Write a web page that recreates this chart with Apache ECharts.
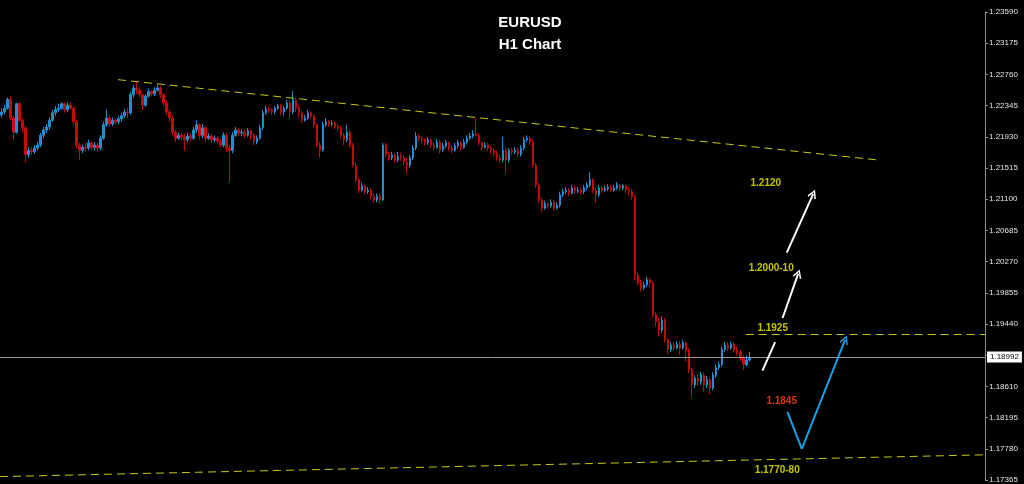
<!DOCTYPE html>
<html><head><meta charset="utf-8">
<script src="https://cdn.jsdelivr.net/npm/echarts@6/dist/echarts.min.js"></script>
<style>html,body{margin:0;padding:0;background:#000}#c{width:1024px;height:484px}</style>
</head><body><div id="c"></div><script>
// H1 candles: [open, close, low, high]
const candles = [
[1.2222,1.2226,1.2218,1.2231],[1.2226,1.2231,1.2223,1.2235],[1.2231,1.2243,1.2229,1.2245],[1.2243,1.2218,1.2215,1.2246],
[1.2218,1.2199,1.2189,1.2221],[1.2199,1.2237,1.2197,1.2238],[1.2237,1.2215,1.2213,1.2239],[1.2215,1.2205,1.2199,1.2218],
[1.2205,1.2169,1.2159,1.2207],[1.2169,1.2175,1.2165,1.2179],[1.2175,1.2173,1.2169,1.2179],[1.2173,1.2178,1.2170,1.2182],
[1.2178,1.2182,1.2175,1.2186],[1.2182,1.2195,1.2179,1.2198],[1.2195,1.2202,1.2191,1.2206],[1.2202,1.2206,1.2198,1.2210],
[1.2206,1.2215,1.2202,1.2219],[1.2215,1.2225,1.2213,1.2229],[1.2225,1.2229,1.2221,1.2234],[1.2229,1.2231,1.2226,1.2237],
[1.2231,1.2237,1.2229,1.2239],[1.2237,1.2229,1.2225,1.2238],[1.2229,1.2235,1.2226,1.2239],[1.2235,1.2231,1.2229,1.2239],
[1.2231,1.2213,1.2209,1.2234],[1.2213,1.2182,1.2178,1.2215],[1.2182,1.2175,1.2162,1.2185],[1.2175,1.2179,1.2171,1.2183],
[1.2179,1.2178,1.2173,1.2185],[1.2178,1.2185,1.2175,1.2189],[1.2185,1.2179,1.2175,1.2187],[1.2179,1.2182,1.2175,1.2186],
[1.2182,1.2178,1.2173,1.2185],[1.2178,1.2191,1.2175,1.2195],[1.2191,1.2209,1.2189,1.2213],[1.2209,1.2218,1.2206,1.2229],
[1.2218,1.2210,1.2206,1.2221],[1.2210,1.2215,1.2207,1.2219],[1.2215,1.2213,1.2209,1.2218],[1.2213,1.2217,1.2210,1.2221],
[1.2217,1.2221,1.2213,1.2225],[1.2221,1.2226,1.2218,1.2230],[1.2226,1.2225,1.2218,1.2231],[1.2225,1.2249,1.2222,1.2253],
[1.2249,1.2258,1.2245,1.2262],[1.2258,1.2255,1.2250,1.2266],[1.2255,1.2249,1.2245,1.2259],[1.2249,1.2235,1.2229,1.2251],
[1.2235,1.2247,1.2233,1.2250],[1.2247,1.2253,1.2245,1.2257],[1.2253,1.2250,1.2247,1.2255],[1.2250,1.2255,1.2247,1.2259],
[1.2255,1.2258,1.2253,1.2262],[1.2258,1.2249,1.2245,1.2261],[1.2249,1.2238,1.2234,1.2251],[1.2238,1.2226,1.2222,1.2242],
[1.2226,1.2218,1.2213,1.2229],[1.2218,1.2199,1.2195,1.2221],[1.2199,1.2191,1.2186,1.2202],[1.2191,1.2195,1.2189,1.2199],
[1.2195,1.2193,1.2189,1.2198],[1.2193,1.2189,1.2175,1.2197],[1.2189,1.2194,1.2186,1.2198],[1.2194,1.2191,1.2187,1.2198],
[1.2191,1.2202,1.2189,1.2206],[1.2202,1.2209,1.2198,1.2215],[1.2209,1.2195,1.2189,1.2211],[1.2195,1.2205,1.2191,1.2210],
[1.2205,1.2191,1.2186,1.2207],[1.2191,1.2194,1.2189,1.2198],[1.2194,1.2189,1.2185,1.2197],[1.2189,1.2191,1.2186,1.2195],
[1.2191,1.2187,1.2183,1.2194],[1.2187,1.2182,1.2179,1.2190],[1.2182,1.2195,1.2179,1.2199],[1.2195,1.2178,1.2173,1.2198],
[1.2178,1.2175,1.2133,1.2182],[1.2175,1.2195,1.2171,1.2199],[1.2195,1.2202,1.2193,1.2206],[1.2202,1.2198,1.2194,1.2205],
[1.2198,1.2199,1.2194,1.2203],[1.2199,1.2195,1.2191,1.2202],[1.2195,1.2201,1.2193,1.2205],[1.2201,1.2195,1.2189,1.2203],
[1.2195,1.2186,1.2182,1.2198],[1.2186,1.2191,1.2183,1.2195],[1.2191,1.2205,1.2189,1.2209],[1.2205,1.2225,1.2202,1.2229],
[1.2225,1.2230,1.2222,1.2234],[1.2230,1.2229,1.2225,1.2233],[1.2229,1.2226,1.2222,1.2231],[1.2226,1.2231,1.2223,1.2234],
[1.2231,1.2234,1.2229,1.2237],[1.2234,1.2226,1.2222,1.2237],[1.2226,1.2231,1.2221,1.2234],[1.2231,1.2238,1.2229,1.2242],
[1.2238,1.2226,1.2218,1.2241],[1.2226,1.2242,1.2223,1.2254],[1.2242,1.2231,1.2226,1.2245],[1.2231,1.2225,1.2219,1.2235],
[1.2225,1.2215,1.2211,1.2227],[1.2215,1.2218,1.2213,1.2222],[1.2218,1.2225,1.2215,1.2229],[1.2225,1.2221,1.2217,1.2227],
[1.2221,1.2209,1.2205,1.2223],[1.2209,1.2182,1.2178,1.2211],[1.2182,1.2175,1.2165,1.2186],[1.2175,1.2209,1.2173,1.2213],
[1.2209,1.2213,1.2206,1.2218],[1.2213,1.2210,1.2206,1.2215],[1.2210,1.2211,1.2207,1.2215],[1.2211,1.2207,1.2203,1.2214],
[1.2207,1.2205,1.2201,1.2210],[1.2205,1.2195,1.2191,1.2207],[1.2195,1.2189,1.2182,1.2198],[1.2189,1.2199,1.2186,1.2209],
[1.2199,1.2182,1.2178,1.2202],[1.2182,1.2155,1.2152,1.2185],[1.2155,1.2136,1.2132,1.2159],[1.2136,1.2122,1.2118,1.2138],
[1.2122,1.2128,1.2120,1.2132],[1.2128,1.2120,1.2116,1.2130],[1.2120,1.2122,1.2117,1.2126],[1.2122,1.2114,1.2110,1.2125],
[1.2114,1.2109,1.2105,1.2118],[1.2109,1.2114,1.2106,1.2118],[1.2114,1.2109,1.2104,1.2117],[1.2109,1.2182,1.2108,1.2185],
[1.2182,1.2169,1.2165,1.2185],[1.2169,1.2165,1.2161,1.2173],[1.2165,1.2169,1.2162,1.2173],[1.2169,1.2162,1.2158,1.2171],
[1.2162,1.2167,1.2159,1.2173],[1.2167,1.2165,1.2161,1.2171],[1.2165,1.2159,1.2155,1.2169],[1.2159,1.2155,1.2145,1.2165],
[1.2155,1.2165,1.2152,1.2169],[1.2165,1.2178,1.2162,1.2182],[1.2178,1.2194,1.2175,1.2199],[1.2194,1.2191,1.2187,1.2197],
[1.2191,1.2189,1.2185,1.2194],[1.2189,1.2185,1.2181,1.2191],[1.2185,1.2189,1.2182,1.2193],[1.2189,1.2182,1.2178,1.2191],
[1.2182,1.2179,1.2175,1.2186],[1.2179,1.2186,1.2177,1.2190],[1.2186,1.2175,1.2171,1.2189],[1.2175,1.2181,1.2173,1.2185],
[1.2181,1.2185,1.2178,1.2189],[1.2185,1.2178,1.2174,1.2187],[1.2178,1.2175,1.2171,1.2182],[1.2175,1.2181,1.2173,1.2185],
[1.2181,1.2185,1.2178,1.2189],[1.2185,1.2179,1.2175,1.2187],[1.2179,1.2186,1.2177,1.2190],[1.2186,1.2191,1.2183,1.2195],
[1.2191,1.2194,1.2189,1.2198],[1.2194,1.2197,1.2191,1.2202],[1.2197,1.2195,1.2193,1.2218],[1.2195,1.2185,1.2181,1.2198],
[1.2185,1.2179,1.2175,1.2187],[1.2179,1.2182,1.2177,1.2186],[1.2182,1.2178,1.2174,1.2185],[1.2178,1.2175,1.2171,1.2181],
[1.2175,1.2171,1.2167,1.2178],[1.2171,1.2165,1.2161,1.2174],[1.2165,1.2162,1.2158,1.2169],[1.2162,1.2175,1.2159,1.2193],
[1.2175,1.2162,1.2145,1.2178],[1.2162,1.2175,1.2159,1.2178],[1.2175,1.2173,1.2169,1.2178],[1.2173,1.2175,1.2170,1.2179],
[1.2175,1.2170,1.2166,1.2178],[1.2170,1.2178,1.2167,1.2182],[1.2178,1.2189,1.2175,1.2193],[1.2189,1.2191,1.2186,1.2195],
[1.2191,1.2186,1.2182,1.2194],[1.2186,1.2155,1.2152,1.2189],[1.2155,1.2129,1.2125,1.2158],[1.2129,1.2109,1.2105,1.2132],
[1.2109,1.2098,1.2093,1.2112],[1.2098,1.2104,1.2096,1.2108],[1.2104,1.2101,1.2097,1.2106],[1.2101,1.2106,1.2098,1.2110],
[1.2106,1.2098,1.2094,1.2109],[1.2098,1.2102,1.2096,1.2106],[1.2102,1.2116,1.2099,1.2120],[1.2116,1.2120,1.2113,1.2124],
[1.2120,1.2122,1.2117,1.2126],[1.2122,1.2118,1.2114,1.2125],[1.2118,1.2125,1.2116,1.2129],[1.2125,1.2121,1.2117,1.2128],
[1.2121,1.2122,1.2118,1.2126],[1.2122,1.2120,1.2116,1.2125],[1.2120,1.2125,1.2117,1.2129],[1.2125,1.2129,1.2122,1.2133],
[1.2129,1.2136,1.2126,1.2146],[1.2136,1.2122,1.2118,1.2138],[1.2122,1.2116,1.2105,1.2126],[1.2116,1.2125,1.2113,1.2129],
[1.2125,1.2122,1.2118,1.2128],[1.2122,1.2124,1.2120,1.2128],[1.2124,1.2126,1.2121,1.2130],[1.2126,1.2122,1.2120,1.2129],
[1.2122,1.2125,1.2120,1.2129],[1.2125,1.2129,1.2122,1.2133],[1.2129,1.2125,1.2121,1.2130],[1.2125,1.2128,1.2122,1.2130],
[1.2128,1.2122,1.2118,1.2130],[1.2122,1.2120,1.2114,1.2126],[1.2120,1.2113,1.2109,1.2124],[1.2113,1.2009,1.2003,1.2116],
[1.2009,1.1999,1.1995,1.2013],[1.1999,1.1992,1.1987,1.2003],[1.1992,1.1996,1.1989,1.2000],[1.1996,1.2003,1.1993,1.2007],
[1.2003,1.1999,1.1993,1.2005],[1.1999,1.1956,1.1952,1.2001],[1.1956,1.1947,1.1941,1.1960],[1.1947,1.1936,1.1927,1.1952],
[1.1936,1.1949,1.1932,1.1954],[1.1949,1.1923,1.1919,1.1952],[1.1923,1.1910,1.1904,1.1925],[1.1910,1.1916,1.1907,1.1920],
[1.1916,1.1912,1.1908,1.1920],[1.1912,1.1917,1.1910,1.1921],[1.1917,1.1912,1.1903,1.1921],[1.1912,1.1919,1.1910,1.1923],
[1.1919,1.1910,1.1894,1.1921],[1.1910,1.1883,1.1879,1.1912],[1.1883,1.1863,1.1847,1.1886],[1.1863,1.1872,1.1859,1.1876],
[1.1872,1.1867,1.1862,1.1878],[1.1867,1.1876,1.1863,1.1880],[1.1876,1.1863,1.1854,1.1879],[1.1863,1.1870,1.1859,1.1875],
[1.1870,1.1859,1.1850,1.1872],[1.1859,1.1876,1.1856,1.1880],[1.1876,1.1886,1.1872,1.1890],[1.1886,1.1890,1.1883,1.1894],
[1.1890,1.1910,1.1887,1.1914],[1.1910,1.1916,1.1907,1.1920],[1.1916,1.1912,1.1908,1.1920],[1.1912,1.1917,1.1910,1.1921],
[1.1917,1.1910,1.1906,1.1920],[1.1910,1.1907,1.1902,1.1914],[1.1907,1.1899,1.1895,1.1910],[1.1899,1.1890,1.1883,1.1903],
[1.1890,1.1896,1.1887,1.1902],[1.1896,1.18992,1.1894,1.1907]
];
const slotCount = 328;           // hourly slots shown, incl. empty right margin
const yMin = 1.17365, yMax = 1.23590, yStep = 0.00415;
const lastPrice = 1.18992;
// annotation lines: [slot index, price]
const upperTrend = [[38.8, 1.2269], [292.2, 1.2162]];
const lowerTrend = [[-0.5, 1.1741], [327.5, 1.1770]];
const level1925 = [[247.8, 1.1930], [327.5, 1.1930]];
const whiteArrows = [
  [[253.4, 1.1882], [257.6, 1.1920], false],
  [[260.1, 1.1952], [265.3, 1.2011], true],
  [[261.5, 1.2039], [270.3, 1.2117], true]
];
const blueArrow = [[261.7, 1.1827], [266.5, 1.1778], [280.9, 1.1923]];
const notes = [
  ['1.2120', 254.5, 1.2131, '#f2f200'],
  ['1.2000-10', 256.3, 1.2018, '#f2f200'],
  ['1.1925', 256.8, 1.1939, '#f2f200'],
  ['1.1845', 259.8, 1.1841, '#ff4a14'],
  ['1.1770-80', 258.3, 1.1750, '#f2f200']
];

const categories = Array.from({length: slotCount}, (_, i) => String(i));
const chev = 'path://M5,0 L10,9 L8.6,10 L5,3 L1.4,10 L0,9 Z';
const yellow = '#c8c814';
const F = 'Liberation Sans, Arial, sans-serif';

function segLine(pts, color, width, arrow) {
  return [{coord: pts[0], symbol: 'none'},
          {coord: pts[1], symbol: arrow ? chev : 'none', symbolSize: 9,
           lineStyle: {color: color, width: width, type: 'solid'}}];
}

const chart = echarts.init(document.getElementById('c'));
chart.setOption({
  animation: false,
  backgroundColor: '#000',
  title: {
    text: 'EURUSD\nH1 Chart', left: 525, top: 7, textAlign: 'center',
    textStyle: {color: '#fff', fontSize: 15, fontWeight: 'bold', fontFamily: F, lineHeight: 22}
  },
  grid: {left: 0, right: 39, top: 12, bottom: 4},
  xAxis: [
    {type: 'category', data: categories, boundaryGap: true, show: false},
    {type: 'value', min: -0.5, max: slotCount - 0.5, show: false}
  ],
  yAxis: {
    type: 'value', position: 'right', min: yMin, max: yMax, interval: yStep, scale: true,
    axisLine: {show: true, onZero: false, lineStyle: {color: '#8c8c8c'}},
    axisTick: {show: true, length: 3, lineStyle: {color: '#8c8c8c'}},
    splitLine: {show: false},
    axisLabel: {
      color: '#e6e6e6', fontSize: 8, fontFamily: F, margin: 4,
      formatter: v => Math.abs(v - 1.19025) < 1e-6 ? '' : v.toFixed(5)
    }
  },
  series: [
    {
      type: 'candlestick', xAxisIndex: 0, data: candles, barWidth: 2,
      itemStyle: {color: '#1f8fcf', color0: '#c40a0a', borderColor: '#1f8fcf', borderColor0: '#c40a0a', borderWidth: 1},
      markLine: {
        silent: true, symbol: ['none', 'none'],
        lineStyle: {color: '#9a9a9a', width: 1, type: 'solid'},
        label: {
          show: true, position: 'end', distance: 2, formatter: lastPrice.toFixed(5),
          color: '#000', backgroundColor: '#fff', fontSize: 8, fontFamily: F, padding: [2, 3, 1, 3]
        },
        data: [{yAxis: lastPrice}]
      }
    },
    {type: 'line', xAxisIndex: 1, data: upperTrend, symbol: 'none', lineStyle: {color: yellow, width: 1, type: [8, 5]}},
    {type: 'line', xAxisIndex: 1, data: lowerTrend, symbol: 'none', lineStyle: {color: yellow, width: 1, type: [8, 5]}},
    {type: 'line', xAxisIndex: 1, data: level1925, symbol: 'none', lineStyle: {color: yellow, width: 1, type: [8, 5]}},
    {
      type: 'line', xAxisIndex: 1, data: [], symbol: 'none',
      markLine: {
        silent: true, label: {show: false}, symbolSize: 9,
        lineStyle: {color: '#ffffff', width: 2, type: 'solid'},
        data: whiteArrows.map(a => segLine([a[0], a[1]], '#ffffff', 2, a[2]))
      }
    },
    {
      type: 'line', xAxisIndex: 1, data: [], symbol: 'none',
      markLine: {
        silent: true, label: {show: false}, symbolSize: 9,
        lineStyle: {color: '#1aa0e6', width: 2, type: 'solid'},
        data: [segLine([blueArrow[0], blueArrow[1]], '#1aa0e6', 2, false),
               segLine([blueArrow[1], blueArrow[2]], '#1aa0e6', 2, true)]
      }
    },
    {
      type: 'scatter', xAxisIndex: 1, symbolSize: 1, itemStyle: {color: 'rgba(0,0,0,0)'},
      data: notes.map(n => ({value: [n[1], n[2]], name: n[0],
        label: {show: true, position: 'inside', formatter: n[0], color: n[3],
                fontSize: 10, fontWeight: 'bold', fontFamily: F}}))
    }
  ]
});
</script></body></html>
